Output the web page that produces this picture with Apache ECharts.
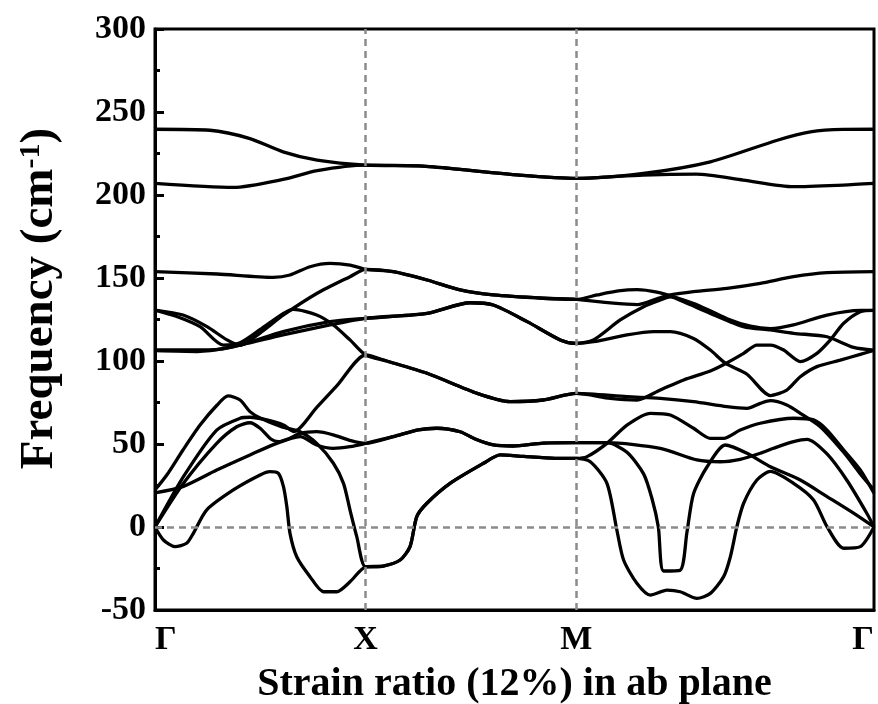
<!DOCTYPE html>
<html>
<head>
<meta charset="utf-8">
<script src="https://cdn.jsdelivr.net/npm/echarts@6/dist/echarts.min.js"></script>
<style>
  html, body { margin: 0; padding: 0; background: #fff; }
  #chart { width: 878px; height: 704px; }
</style>
</head>
<body>
<div id="chart"></div>
<script>
// High-symmetry points along the path Γ–X–M–Γ (distance in units of |Γ–X|)
const kTicks = [0, 1, 2, 3.414];
const kLabels = ['Γ', 'X', 'M', 'Γ'];

// Frequency axis (cm^-1)
const freqMin = -50;
const freqMax = 300;
const freqStep = 50;

// Phonon branches: [k, frequency] pairs along Γ–X–M–Γ
const band1 = [[0,239.6],[0.261,239],[0.451,234],[0.608,226],[0.77,221],[1,218],[1.25,217.5],[1.4,216],[1.73,212],[2,210],[2.318,213],[2.637,220],[2.955,233],[3.112,238],[3.268,239.5],[3.414,239.6]];
const band2 = [[0,207],[0.371,204.6],[0.608,209.4],[0.77,214.7],[1,218],[1.25,217.5],[1.4,216],[1.73,212],[2,210],[2.318,212],[2.57,212.6],[2.793,209],[3.032,205],[3.268,206],[3.414,207]];
const band3 = [[0,153.8],[0.295,152.4],[0.561,150.4],[0.641,151.8],[0.736,156.8],[0.831,158.8],[0.926,157.8],[1,155.2],[1.131,153.8],[1.292,148.8],[1.449,142.8],[1.606,139.8],[1.843,137.8],[2,137.1],[2.162,135],[2.29,134],[2.383,137.5],[2.447,139.8],[2.557,141.8],[2.716,143.8],[2.874,146.8],[3.032,150.8],[3.191,153.2],[3.414,153.8]];
const band4 = [[0,130.7],[0.133,127.7],[0.247,120.7],[0.342,112.7],[0.404,109.5],[0.5,117],[0.61,127.7],[0.77,140.8],[0.926,150.8],[1,155.2],[1.131,153.8],[1.292,148.8],[1.449,142.8],[1.606,139.8],[1.843,137.8],[2,137.1],[2.1,139.8],[2.2,142.2],[2.288,143],[2.383,141.5],[2.478,138],[2.589,133],[2.716,125.5],[2.827,121],[2.922,119.5],[3.032,121.7],[3.191,127.7],[3.349,130.5],[3.414,130.5]];
const band5 = [[0,130.7],[0.1,127],[0.214,120.7],[0.324,109.6],[0.404,111],[0.5,119],[0.61,128.7],[0.657,131.1],[0.768,127.7],[0.847,121.7],[0.926,112.7],[1,103.6],[1.1,100],[1.292,92.6],[1.53,80.5],[1.686,75.5],[1.843,76.5],[2,80.5],[2.162,77.5],[2.288,76.5],[2.399,82.5],[2.51,88.6],[2.637,94],[2.71,98.5],[2.795,104.6],[2.858,109.6],[2.922,109.6],[2.985,106.6],[3.064,99.6],[3.143,104.6],[3.207,112.7],[3.27,122.7],[3.349,129.7],[3.414,130.5]];
const band6 = [[0,106.7],[0.261,106.7],[0.404,109.6],[0.608,117.7],[0.831,123.7],[1,125.7],[1.292,128.7],[1.496,135.1],[1.606,133.7],[1.767,123.7],[1.924,112.7],[2,110.6],[2.082,112.7],[2.209,124.7],[2.32,132.7],[2.399,136.7],[2.447,138.7],[2.51,135.7],[2.637,128.7],[2.794,120.7],[2.922,118.7],[3.032,116.7],[3.191,114.6],[3.317,108.2],[3.414,106.6]];
const band7 = [[0,106.2],[0.2,105.7],[0.347,108],[0.608,115.7],[0.831,121.7],[1,125.7],[1.292,128.7],[1.496,135.1],[1.606,133.7],[1.767,123.7],[1.924,112.7],[2,110.6],[2.082,111.6],[2.241,115.7],[2.367,117.7],[2.447,117.7],[2.557,113.6],[2.637,106.6],[2.71,98.5],[2.811,92],[2.922,79.2],[3.0,82.5],[3.064,90.5],[3.143,96.6],[3.254,100.5],[3.349,104],[3.414,106.4]];
const band8 = [[0,0],[0.135,30.3],[0.293,58.4],[0.404,65.5],[0.451,66.1],[0.531,64.5],[0.61,61.4],[0.66,57.5],[0.768,72],[0.863,85],[1,103.6],[1.1,100],[1.292,92.6],[1.53,80.5],[1.686,75.5],[1.843,76.5],[2,80.5],[2.241,78.5],[2.399,77.5],[2.557,75.5],[2.716,72.5],[2.811,71.5],[2.874,74.5],[2.922,76.1],[3.0,73.5],[3.064,68.5],[3.159,60.4],[3.27,45],[3.349,32],[3.414,22.3]];
const band9 = [[0,22.3],[0.056,31.3],[0.133,46.4],[0.214,61.4],[0.295,73.5],[0.347,79],[0.404,76.5],[0.451,69.5],[0.499,65.7],[0.6,60.5],[0.689,57.4],[0.768,50.4],[0.847,38.4],[0.895,26.3],[0.926,10.2],[0.958,-5.8],[1,-24],[1.083,-23.5],[1.164,-19.9],[1.211,-11.8],[1.243,6.2],[1.291,14.3],[1.401,26.3],[1.56,38.4],[1.639,43.5],[1.75,42.5],[1.9,41.4],[2,41.4],[2.067,39.3],[2.146,26.3],[2.193,-1.8],[2.225,-19.9],[2.288,-33.9],[2.352,-41],[2.431,-38],[2.494,-39],[2.573,-43],[2.637,-40],[2.7,-29.9],[2.732,-17.9],[2.763,0.2],[2.795,14.3],[2.858,28.3],[2.922,33.5],[3.032,26.3],[3.127,16.3],[3.191,0.2],[3.27,-12.8],[3.349,-11.8],[3.414,0]];
const band10 = [[0,0],[0.04,-7.8],[0.095,-11.8],[0.15,-9.8],[0.182,-3.8],[0.245,10.2],[0.372,22.3],[0.499,31.3],[0.546,33.3],[0.586,32.3],[0.61,24.3],[0.626,12.2],[0.641,-3.8],[0.673,-17.9],[0.736,-29.9],[0.8,-39],[0.863,-39],[0.926,-33],[1,-24],[1.083,-23.5],[1.164,-19.9],[1.211,-11.8],[1.243,6.2],[1.291,14.3],[1.401,26.3],[1.56,38.4],[1.639,43.5],[1.75,42.5],[1.9,41.4],[2,41.4],[2.051,42.4],[2.146,50.4],[2.241,61.4],[2.352,68.5],[2.447,67.5],[2.557,59.5],[2.637,53.4],[2.7,53.4],[2.779,58.4],[2.874,62.5],[3.032,65.5],[3.127,64.5],[3.191,58.4],[3.27,46.4],[3.349,34.3],[3.414,20.3]];
const band11 = [[0,0],[0.135,26.3],[0.293,50.4],[0.388,60.4],[0.451,62.8],[0.499,59.5],[0.55,53],[0.586,51.4],[0.64,53.4],[0.689,56.4],[0.768,57.4],[0.85,55.4],[0.93,52],[1,50.4],[1.131,54.4],[1.25,58.5],[1.338,59.5],[1.449,57.4],[1.52,53],[1.607,49.4],[1.7,48.8],[1.843,50.5],[2,50.8],[2.146,50.8],[2.399,47.4],[2.573,40.4],[2.684,39.3],[2.779,40.8],[2.874,44.4],[2.937,47.4],[3.032,51.4],[3.096,52.8],[3.191,44],[3.286,28],[3.381,8],[3.414,0]];
const band12 = [[0,20.5],[0.135,24.5],[0.293,34.3],[0.451,43.4],[0.578,50.4],[0.689,54.4],[0.768,49.4],[0.846,47.4],[0.926,48.4],[1,50.4],[1.131,54.4],[1.25,58.5],[1.338,59.5],[1.449,57.4],[1.52,53],[1.607,49.4],[1.7,48.8],[1.843,50.5],[2,50.8],[2.146,50.8],[2.241,45],[2.32,32],[2.36,17],[2.39,0],[2.415,-26.5],[2.494,-26],[2.526,-3],[2.557,20],[2.62,36],[2.708,49.4],[2.811,44.4],[2.922,36.3],[3.064,28.3],[3.191,18.3],[3.317,8.3],[3.414,0]];

const bands = [band1, band2, band3, band4, band5, band6, band7, band8, band9, band10, band11, band12];

const serif = 'Liberation Serif, Times New Roman, serif';

const chart = echarts.init(document.getElementById('chart'), null, { renderer: 'canvas' });

const bandSeries = bands.map((b, i) => ({
  name: 'branch ' + (i + 1),
  type: 'line',
  data: b,
  showSymbol: false,
  smooth: 0.25,
  clip: true,
  z: 3,
  lineStyle: { color: '#000', width: 3.3 },
  emphasis: { disabled: true }
}));

// Dashed guides: high-symmetry points and the zero-frequency line
const guideSeries = {
  name: 'guides',
  type: 'line',
  data: [],
  z: 1,
  markLine: {
    silent: true,
    symbol: 'none',
    label: { show: false },
    lineStyle: { color: '#8c8c8c', type: [7, 5], width: 2.5 },
    data: [{ xAxis: kTicks[1] }, { xAxis: kTicks[2] }, { yAxis: 0 }]
  }
};

chart.setOption({
  animation: false,
  backgroundColor: '#fff',
  grid: {
    left: 155, right: 4, top: 29, bottom: 94,
    outerBoundsMode: 'none',
    containLabel: false,
    show: true, borderColor: '#000', borderWidth: 3, backgroundColor: 'transparent'
  },
  xAxis: {
    type: 'value',
    min: kTicks[0],
    max: kTicks[kTicks.length - 1],
    splitLine: { show: false },
    axisLine: { show: true, onZero: false, lineStyle: { color: '#000', width: 3 } },
    axisTick: { show: false },
    axisLabel: {
      customValues: kTicks,
      formatter: v => kLabels[kTicks.indexOf(v)] ?? '',
      fontFamily: serif, fontWeight: 'bold', fontSize: 34, color: '#000',
      margin: 13,
      alignMinLabel: 'left',
      alignMaxLabel: 'right'
    },
    name: 'Strain ratio (12%) in ab plane',
    nameLocation: 'middle',
    nameGap: 55,
    nameTextStyle: { fontFamily: serif, fontWeight: 'bold', fontSize: 40, color: '#000' }
  },
  yAxis: {
    type: 'value',
    min: freqMin,
    max: freqMax,
    interval: freqStep,
    splitLine: { show: false },
    axisLine: { show: true, onZero: false, lineStyle: { color: '#000', width: 3 } },
    axisTick: { show: true, inside: true, length: 9, lineStyle: { color: '#000', width: 3 } },
    minorTick: { show: true, splitNumber: 2, length: 5, lineStyle: { color: '#000', width: 3 } },
    axisLabel: { fontFamily: serif, fontWeight: 'bold', fontSize: 34, color: '#000', margin: 9 },
    name: 'Frequency (cm{sup|-1})',
    nameLocation: 'middle',
    nameGap: 92,
    nameTextStyle: {
      fontFamily: serif, fontWeight: 'bold', fontSize: 47, color: '#000',
      padding: [0, 0, 0, 42],
      rich: {
        sup: { fontFamily: serif, fontWeight: 'bold', fontSize: 30, color: '#000', verticalAlign: 'top' }
      }
    }
  },
  series: [guideSeries].concat(bandSeries)
});
</script>
</body>
</html>
